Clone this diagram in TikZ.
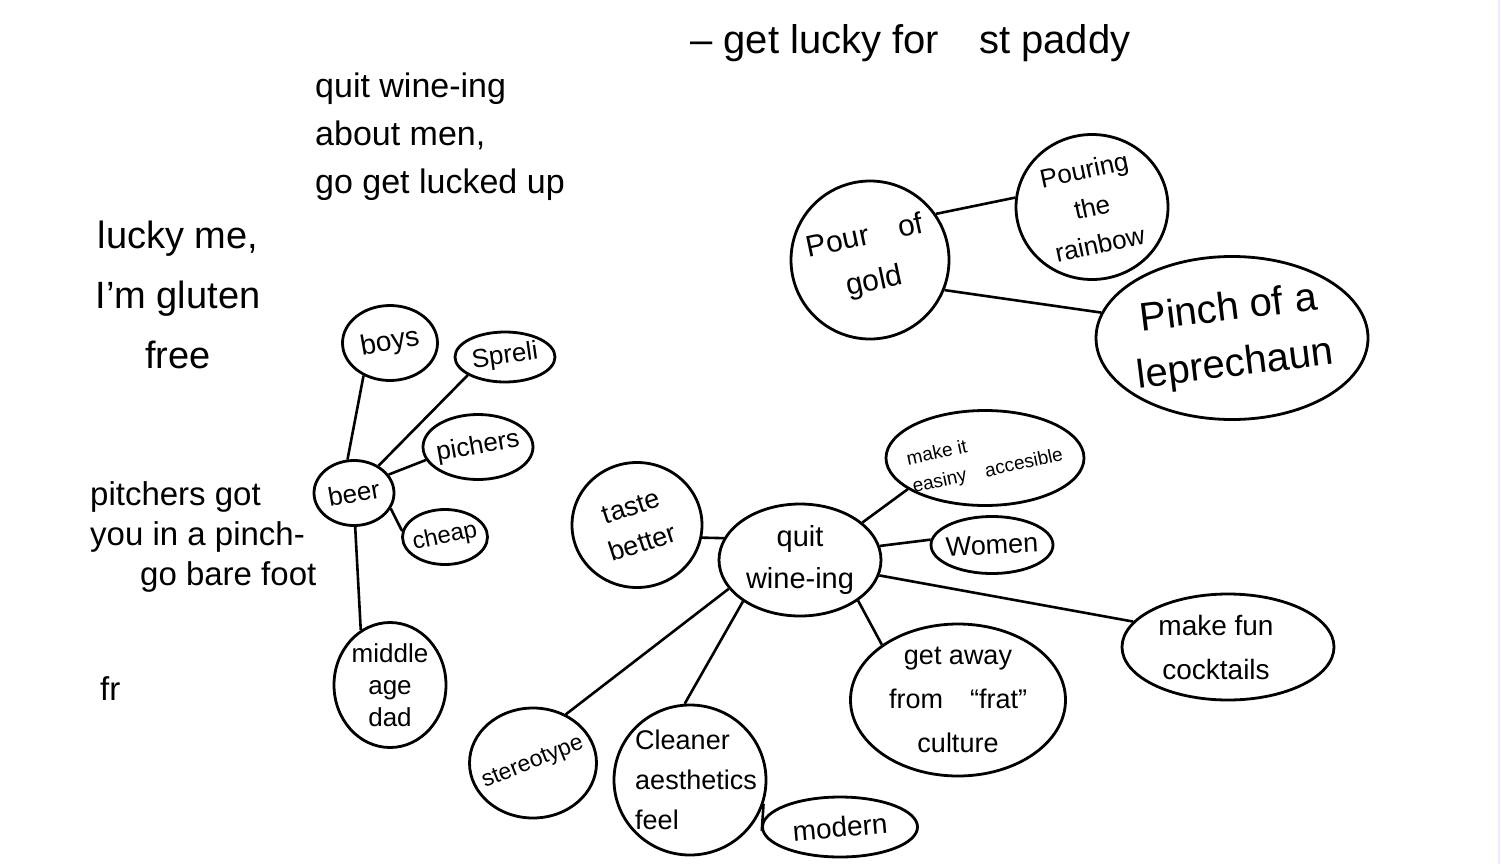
\documentclass[tikz,border=0pt]{standalone}
\usepackage{fontspec}
\setmainfont{Liberation Sans}
\usetikzlibrary{shapes.geometric}
\newcommand{\hand}[2]{\fontsize{#1}{#2}\selectfont}

\begin{document}
\begin{tikzpicture}[x=1pt, y=-1pt]
	\tikzstyle{bubble}=[ellipse, draw=black, line width=2.8pt, inner sep=0pt]
	\tikzstyle{note}=[inner sep=0pt, align=left]
	\tikzstyle{link}=[line width=2.6pt]

	\useasboundingbox (0,0) rectangle (1501,864);
	\fill[white] (0,0) rectangle (1501,864);
	\draw[blue!8, line width=1.5pt] (1499,0) -- (1499,864);

	% loose notes
	\node[note, anchor=north west, font=\hand{40}{48}] (paddy) at (690,24) {-- get lucky for\quad st paddy};
	\node[note, anchor=north west, font=\hand{34}{48}] (quitnote) at (315,73) {quit wine-ing\\about men,\\go get lucked up};
	\node[note, anchor=north, align=center, font=\hand{38}{60}] (gluten) at (178,221) {lucky me,\\I'm gluten\\free};
	\node[note, anchor=north west, font=\hand{33}{40}] (pitchers) at (90,481) {pitchers got\\you in a pinch-\\\hspace*{50pt}go bare foot};
	\node[note, anchor=north west, font=\hand{33}{40}] (fr) at (100,676) {fr};

	% beer cluster
	\node[bubble, minimum width=95pt, minimum height=75pt, label={[rotate=10, font=\hand{28}{32}]center:boys}] (boys) at (390,343) {};
	\node[bubble, minimum width=100pt, minimum height=50pt, label={[rotate=8, font=\hand{26}{30}]center:Spreli}] (spreli) at (505,357) {};
	\node[bubble, minimum width=110pt, minimum height=65pt, label={[rotate=10, font=\hand{26}{30}]center:pichers}] (pichers) at (478,447) {};
	\node[bubble, minimum width=80pt, minimum height=65pt, label={[rotate=10, font=\hand{26}{30}]center:beer}] (beer) at (354,493) {};
	\node[bubble, minimum width=85pt, minimum height=55pt, label={[rotate=12, font=\hand{24}{28}]center:cheap}] (cheap) at (445,537) {};
	\node[bubble, minimum width=112pt, minimum height=125pt, label={[align=center, font=\hand{26}{32}]center:middle\\age\\dad}] (dad) at (390,685) {};

	\draw[link] (boys.231) -- (beer.101);
	\draw[link] (spreli.206) -- (beer.48);
	\draw[link] (pichers.194) -- (beer.28);
	\draw[link] (cheap.172) -- (beer.-23);
	\draw[link] (beer.272) -- (dad.118);

	% wine cluster
	\node[bubble, minimum width=162pt, minimum height=112pt, label={[align=center, font=\hand{29}{42}]center:quit\\wine-ing}] (quit) at (800,560) {};
	\node[bubble, minimum width=130pt, minimum height=125pt, label={[rotate=18, align=center, font=\hand{27}{38}]center:taste\\better}] (taste) at (637,525) {};
	\node[bubble, minimum width=198pt, minimum height=95pt, label={[rotate=12, align=left, font=\hand{19}{28}]center:make it\\easiny\quad accesible}] (easy) at (985,458) {};
	\node[bubble, minimum width=122pt, minimum height=57pt, label={[rotate=3, font=\hand{27}{30}]center:Women}] (women) at (992,545) {};
	\node[bubble, minimum width=212pt, minimum height=106pt, label={[xshift=-12pt, align=center, font=\hand{28}{44}]center:make fun\\cocktails}] (cocktails) at (1228,647) {};
	\node[bubble, minimum width=215pt, minimum height=152pt, label={[align=center, font=\hand{27}{44}]center:get away\\from\quad “frat”\\culture}] (frat) at (958,700) {};
	\node[bubble, minimum width=127pt, minimum height=110pt, label={[rotate=22, font=\hand{23}{28}]center:stereotype}] (stereo) at (533,763) {};
	\node[bubble, minimum width=152pt, minimum height=150pt, label={[xshift=6pt, align=left, font=\hand{27}{40}]center:Cleaner\\aesthetics\\feel}] (clean) at (690,780) {};
	\node[bubble, minimum width=155pt, minimum height=60pt, label={[rotate=5, font=\hand{28}{30}]center:modern}] (modern) at (840,827) {};

	\draw[link] (taste.-11) -- (quit.164);
	\draw[link] (quit.31) -- (easy.202);
	\draw[link] (quit.10) -- (women.175);
	\draw[link] (quit.-11) -- (cocktails.165);
	\draw[link] (quit.-35) -- (frat.144);
	\draw[link] (quit.202) -- (stereo.56);
	\draw[link] (quit.216) -- (clean.94);
	\draw[link] (clean.-18) -- (modern.183);

	% gold cluster
	\node[bubble, minimum width=158pt, minimum height=158pt, label={[rotate=12, align=center, font=\hand{30}{46}]center:Pour\quad of\\gold}] (gold) at (870,260) {};
	\node[bubble, minimum width=152pt, minimum height=145pt, label={[rotate=12, align=center, font=\hand{26}{38}]center:Pouring\\the\\rainbow}] (rainbow) at (1092,207) {};
	\node[bubble, minimum width=272pt, minimum height=163pt, label={[rotate=7, align=center, font=\hand{40}{56}]center:Pinch of a\\leprechaun}] (pinch) at (1232,338) {};

	\draw[link] (gold.35) -- (rainbow.173);
	\draw[link] (gold.-22) -- (pinch.169);
\end{tikzpicture}
\end{document}
